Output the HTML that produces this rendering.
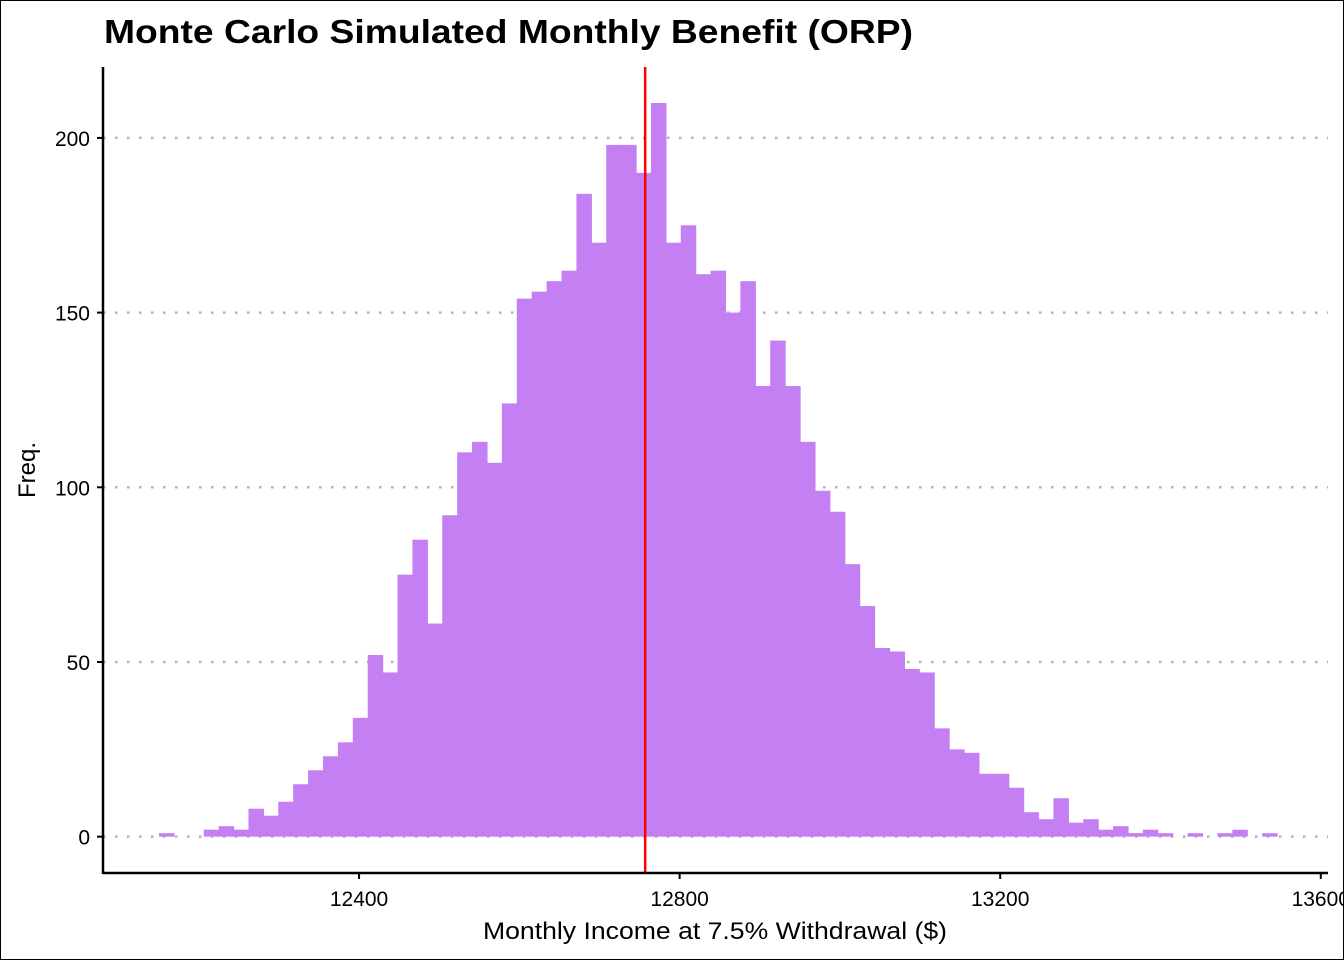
<!DOCTYPE html>
<html><head><meta charset="utf-8"><style>
html,body{margin:0;padding:0;background:#fff;}
svg{display:block;font-family:"Liberation Sans",Arial,sans-serif;}
</style></head><body>
<svg id="chart" width="1344" height="960" viewBox="0 0 1344 960">
<rect x="0.5" y="0.5" width="1343" height="959" fill="#fff" stroke="#000" stroke-width="1"/>
<text x="104" y="43" font-size="33" font-weight="bold" fill="#000" textLength="809" lengthAdjust="spacingAndGlyphs">Monte Carlo Simulated Monthly Benefit (ORP)</text>
<g id="grid"></g>
<g id="bars"></g>
<g id="overlay"></g>
<g id="axes"></g>
<text x="483" y="939" font-size="24" fill="#000" textLength="464" lengthAdjust="spacingAndGlyphs">Monthly Income at 7.5% Withdrawal ($)</text>
<text transform="translate(35,470) rotate(-90)" font-size="24" text-anchor="middle" fill="#000">Freq.</text>
</svg>
<script>
const binStart = 12150.4;
const binWidth = 18.6;
const counts = [1,0,0,2,3,2,8,6,10,15,19,23,27,34,52,47,75,85,61,92,110,113,107,124,154,156,159,162,184,170,198,198,190,210,170,175,161,162,150,159,129,142,129,113,99,93,78,66,54,53,48,47,31,25,24,18,18,14,7,5,11,4,5,2,3,1,2,1,0,1,0,1,2,0,1];
const meanValue = 12757;
const xTicks = [12400,12800,13200,13600];
const yTicks = [0,50,100,150,200];

const X0 = 103, X1 = 1328, Y0 = 873, Y1 = 67;
const xMin = 12080.5, xMax = 13609;
const yMin = -10.4, yMax = 220.3;
const sx = v => X0 + (v - xMin) / (xMax - xMin) * (X1 - X0);
const sy = v => Y0 - (v - yMin) / (yMax - yMin) * (Y0 - Y1);
const NS = "http://www.w3.org/2000/svg";
function mk(tag, attrs, parent){const e=document.createElementNS(NS,tag);for(const k in attrs)e.setAttribute(k,attrs[k]);parent.appendChild(e);return e;}

const grid = document.getElementById('grid');
yTicks.forEach(t=>{
  const l = mk('line',{x1:X0,x2:X1,y1:sy(t),y2:sy(t),stroke:'#b3b3b3','stroke-width':2.5,'stroke-dasharray':'2.5 9.5'},grid);
  
  
});

const bars = document.getElementById('bars');
counts.forEach((c,i)=>{
  if(c<=0) return;
  const xa = sx(binStart + i*binWidth), xb = sx(binStart + (i+1)*binWidth);
  const r = mk('rect',{x:xa,y:sy(c),width:xb-xa+0.6,height:sy(0)-sy(c),fill:'#c47ff2'},bars);
  
  
});

const ov = document.getElementById('overlay');
const ml = mk('line',{x1:sx(meanValue),x2:sx(meanValue),y1:Y1,y2:Y0,stroke:'#ff0000','stroke-width':2.5},ov);



const ax = document.getElementById('axes');
const xl = mk('line',{x1:X0,x2:X1,y1:Y0,y2:Y0,stroke:'#000','stroke-width':2.5},ax);


const yl = mk('line',{x1:X0,x2:X0,y1:Y1,y2:Y0+1,stroke:'#000','stroke-width':2.5},ax);


xTicks.forEach(t=>{
  const tk = mk('line',{x1:sx(t),x2:sx(t),y1:Y0,y2:Y0+6,stroke:'#000','stroke-width':2},ax);
  
  
  const tx = mk('text',{x:sx(t),y:Y0+33,'font-size':21,'text-anchor':'middle',fill:'#000'},ax);
  tx.textContent = t;
  
  
});
yTicks.forEach(t=>{
  const tk = mk('line',{x1:X0-6,x2:X0,y1:sy(t),y2:sy(t),stroke:'#000','stroke-width':2},ax);
  
  
  const tx = mk('text',{x:X0-13,y:sy(t)+8,'font-size':21,'text-anchor':'end',fill:'#000'},ax);
  tx.textContent = t;
  
  
});
</script>
</body></html>
